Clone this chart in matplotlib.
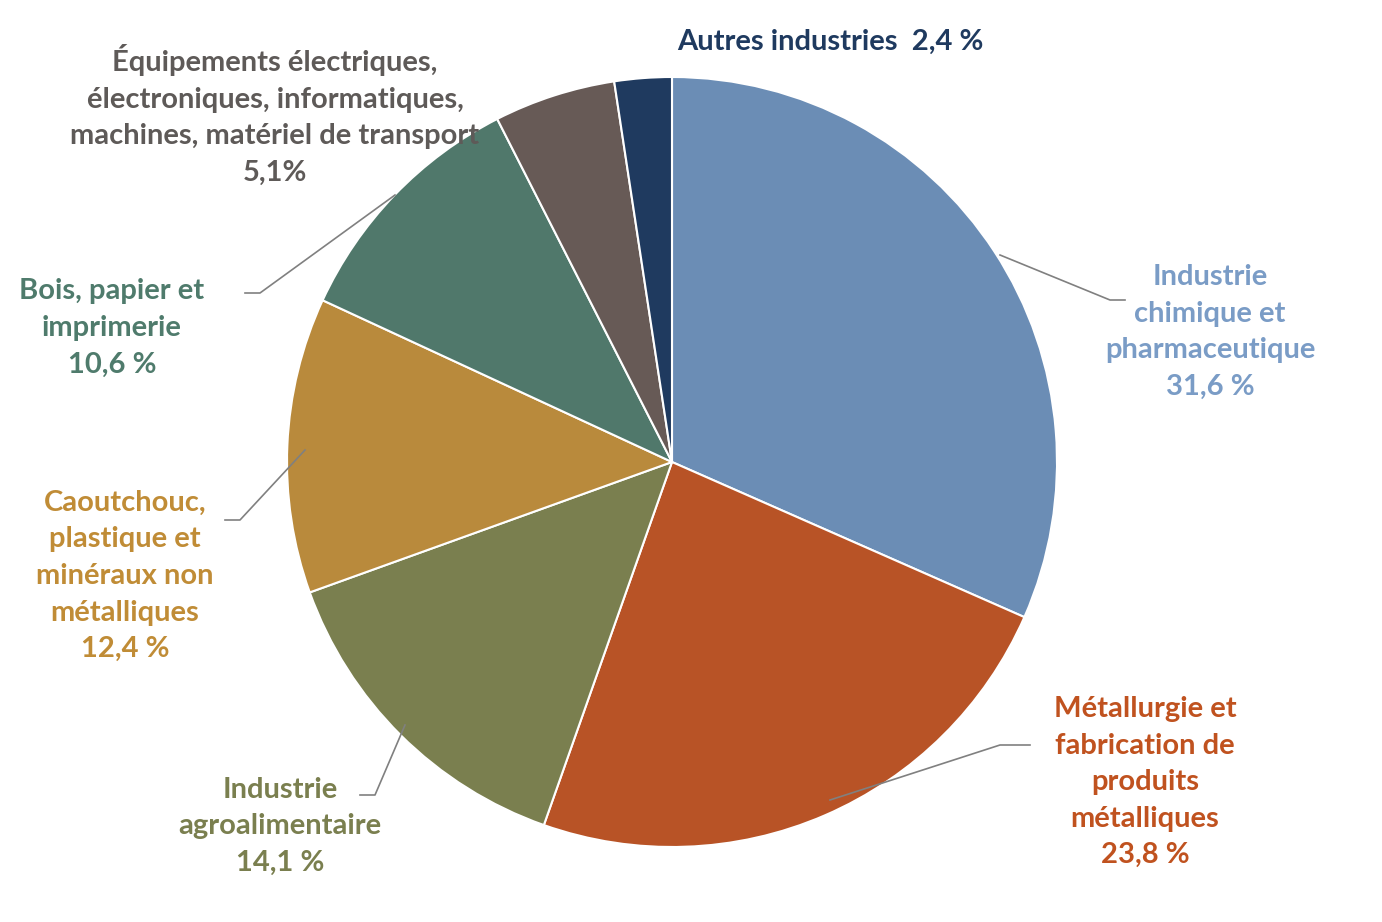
import matplotlib.pyplot as plt

labels = ["Industrie\nchimique et\npharmaceutique\n31,6 %",
          "Métallurgie et\nfabrication de\nproduits\nmétalliques\n23,8 %",
          "Industrie\nagroalimentaire\n14,1 %",
          "Caoutchouc,\nplastique et\nminéraux non\nmétalliques\n12,4 %",
          "Bois, papier et\nimprimerie\n10,6 %",
          "Équipements électriques,\nélectroniques, informatiques,\nmachines, matériel de transport\n5,1%",
          "Autres industries  2,4 %"]
values = [31.6, 23.8, 14.1, 12.4, 10.6, 5.1, 2.4]
colors = ["#6B8DB5", "#B85326", "#7A7F4F", "#B98A3C", "#50786B", "#675A56", "#1F3A5F"]
text_colors = ["#7A9CC6", "#C0521F", "#7A7F4F", "#C08C36", "#4F7B6C", "#5E5A58", "#1F3A5F"]

# label centre positions (pixel coords, y from top) and leader lines
label_pos = [(1210, 332), (1145, 782), (280, 826), (125, 576), (112, 328), (275, 115), (830, 42)]
leaders = [[(1000, 255), (1110, 300), (1125, 300)],
           [(830, 800), (1000, 745), (1030, 745)],
           [(405, 725), (375, 795), (360, 795)],
           [(305, 450), (240, 520), (225, 520)],
           [(395, 195), (260, 293), (245, 293)],
           None, None]

H = 922
fig = plt.figure(figsize=(13.82, 9.22), dpi=100)
ax = fig.add_axes([0, 0, 1, 1])

ax.pie(values, colors=colors, startangle=90, counterclock=False,
       center=(672, H - 462), radius=385, frame=True,
       wedgeprops=dict(edgecolor="white", linewidth=1.5))
ax.set_xlim(0, 1382)
ax.set_ylim(0, H)
ax.set_aspect("equal")
ax.axis("off")

for lab, (x, y), col, ld in zip(labels, label_pos, text_colors, leaders):
    if ld:
        ax.plot([p[0] for p in ld], [H - p[1] for p in ld], color="#808080", lw=1.2)
    ax.text(x, H - y, lab, ha="center", va="center", color=col,
            fontsize=21, fontweight="bold", family="Lato", linespacing=1.5)

fig.savefig("out.png", dpi=100)
